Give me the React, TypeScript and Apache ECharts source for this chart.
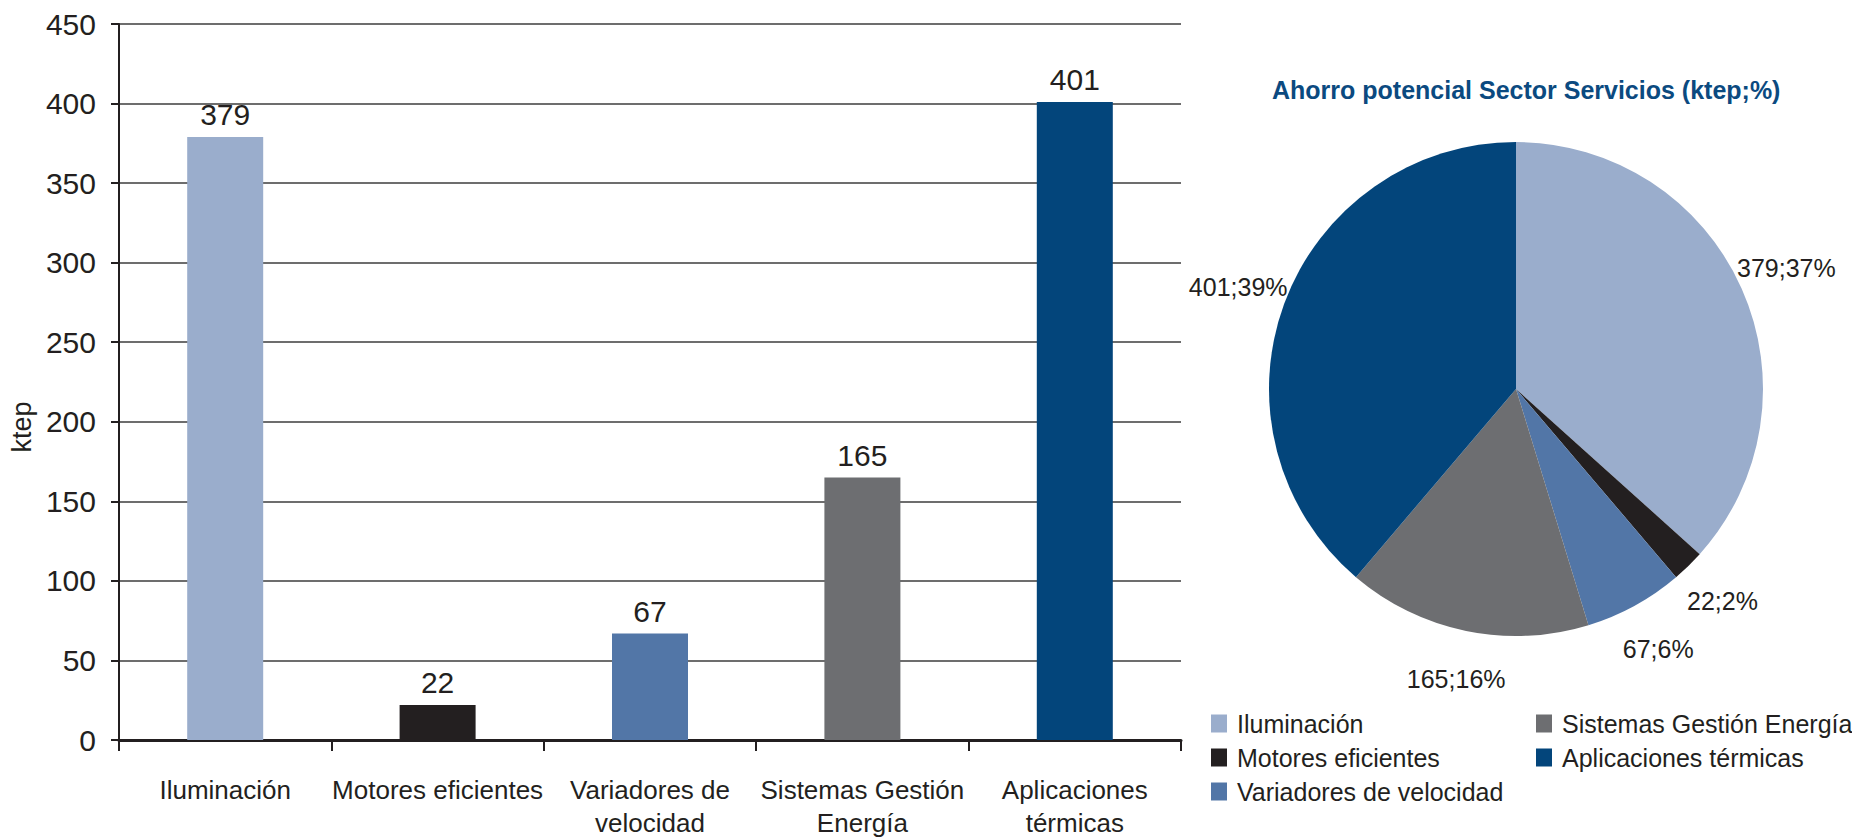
import React, { useEffect, useRef } from "react";
import * as echarts from "echarts";

// Potential savings in the services sector, by measure (ktep)
const categories = [
  "Iluminación",
  "Motores eficientes",
  "Variadores de velocidad",
  "Sistemas Gestión Energía",
  "Aplicaciones térmicas",
];
const axisLabels = [
  "Iluminación",
  "Motores eficientes",
  "Variadores de\nvelocidad",
  "Sistemas Gestión\nEnergía",
  "Aplicaciones\ntérmicas",
];
const savings = [379, 22, 67, 165, 401];
const colors = ["#9aadcc", "#231f20", "#5276a7", "#6d6e71", "#03457b"];

const yMin = 0;
const yMax = 450;
const yStep = 50;

const pieTitle = "Ahorro potencial Sector Servicios (ktep;%)";
const legendLeftColumn = ["Iluminación", "Motores eficientes", "Variadores de velocidad"];
const legendRightColumn = ["Sistemas Gestión Energía", "Aplicaciones térmicas"];

const INK = "#231f20";
const NARROW = "'Liberation Sans Narrow', 'Liberation Sans', sans-serif";
const SANS = "'Liberation Sans', Arial, sans-serif";

const PIE_CENTER: [number, number] = [1516, 389];
const PIE_RADIUS = 247;
const PIE_LABEL_RADIUS = 296;

export default function App() {
  const ref = useRef<HTMLDivElement>(null);

  useEffect(() => {
    if (!ref.current) return;
    const chart = echarts.init(ref.current, null, { renderer: "svg" });
    const total = savings.reduce((a, b) => a + b, 0);

    const legendCommon = {
      orient: "vertical" as const,
      icon: "rect",
      itemWidth: 16,
      itemHeight: 18,
      itemGap: 9,
      selectedMode: false,
      textStyle: { color: INK, fontSize: 25, fontFamily: SANS, padding: [0, 0, 0, 5] },
    };

    chart.setOption({
      animation: false,
      backgroundColor: "#ffffff",
      title: {
        text: pieTitle,
        left: 1272,
        top: 77,
        padding: 0,
        textStyle: { color: "#0b4a80", fontSize: 25, fontWeight: "bold", fontFamily: SANS },
      },
      legend: [
        { ...legendCommon, left: 1206, top: 706, data: legendLeftColumn },
        { ...legendCommon, left: 1531, top: 706, data: legendRightColumn },
      ],
      grid: { left: 119, right: 671, top: 24, bottom: 94, containLabel: false },
      xAxis: {
        type: "category",
        data: axisLabels,
        axisLine: { show: true, lineStyle: { color: INK, width: 3 } },
        axisTick: { show: true, length: 11, lineStyle: { color: INK, width: 2 } },
        axisLabel: {
          interval: 0,
          margin: 33,
          color: INK,
          fontSize: 26,
          lineHeight: 33,
          fontFamily: NARROW,
        },
        splitLine: { show: false },
      },
      yAxis: {
        type: "value",
        min: yMin,
        max: yMax,
        interval: yStep,
        name: "ktep",
        nameLocation: "middle",
        nameGap: 80,
        nameTextStyle: { color: INK, fontSize: 27, fontFamily: SANS, padding: [0, 90, 0, 0] },
        axisLine: { show: true, lineStyle: { color: INK, width: 2 } },
        axisTick: { show: true, length: 8, lineStyle: { color: INK, width: 2 } },
        axisLabel: { color: INK, fontSize: 30, margin: 23, fontFamily: NARROW },
        splitLine: { show: true, lineStyle: { color: "#3c3c3c", width: 1.5 } },
      },
      series: [
        {
          type: "bar",
          barWidth: 76,
          silent: true,
          data: savings.map((v, i) => ({ value: v, itemStyle: { color: colors[i] } })),
          label: {
            show: true,
            position: "top",
            distance: 7,
            color: INK,
            fontSize: 30,
            fontFamily: NARROW,
          },
        },
        {
          type: "pie",
          center: PIE_CENTER,
          radius: PIE_RADIUS,
          startAngle: 90,
          clockwise: true,
          silent: true,
          avoidLabelOverlap: false,
          data: categories.map((name, i) => ({
            name,
            value: savings[i],
            itemStyle: { color: colors[i] },
          })),
          label: {
            show: true,
            position: "outside",
            color: INK,
            fontSize: 25,
            fontFamily: SANS,
            formatter: (p: any) => `${p.value};${Math.round(p.percent)}%`,
          },
          labelLine: { show: false },
          // centre each value label on the slice's bisector, just outside the rim
          labelLayout: (p: any) => {
            const i = p.dataIndex;
            const before = savings.slice(0, i).reduce((a, b) => a + b, 0);
            const mid = ((before + savings[i] / 2) / total) * Math.PI * 2;
            return {
              x: PIE_CENTER[0] + Math.sin(mid) * PIE_LABEL_RADIUS,
              y: PIE_CENTER[1] - Math.cos(mid) * PIE_LABEL_RADIUS,
              align: "center",
              verticalAlign: "middle",
            };
          },
        },
      ],
    });

    return () => chart.dispose();
  }, []);

  return (
    <div
      ref={ref}
      style={{ position: "absolute", left: 0, top: 0, width: 1852, height: 839 }}
    />
  );
}
